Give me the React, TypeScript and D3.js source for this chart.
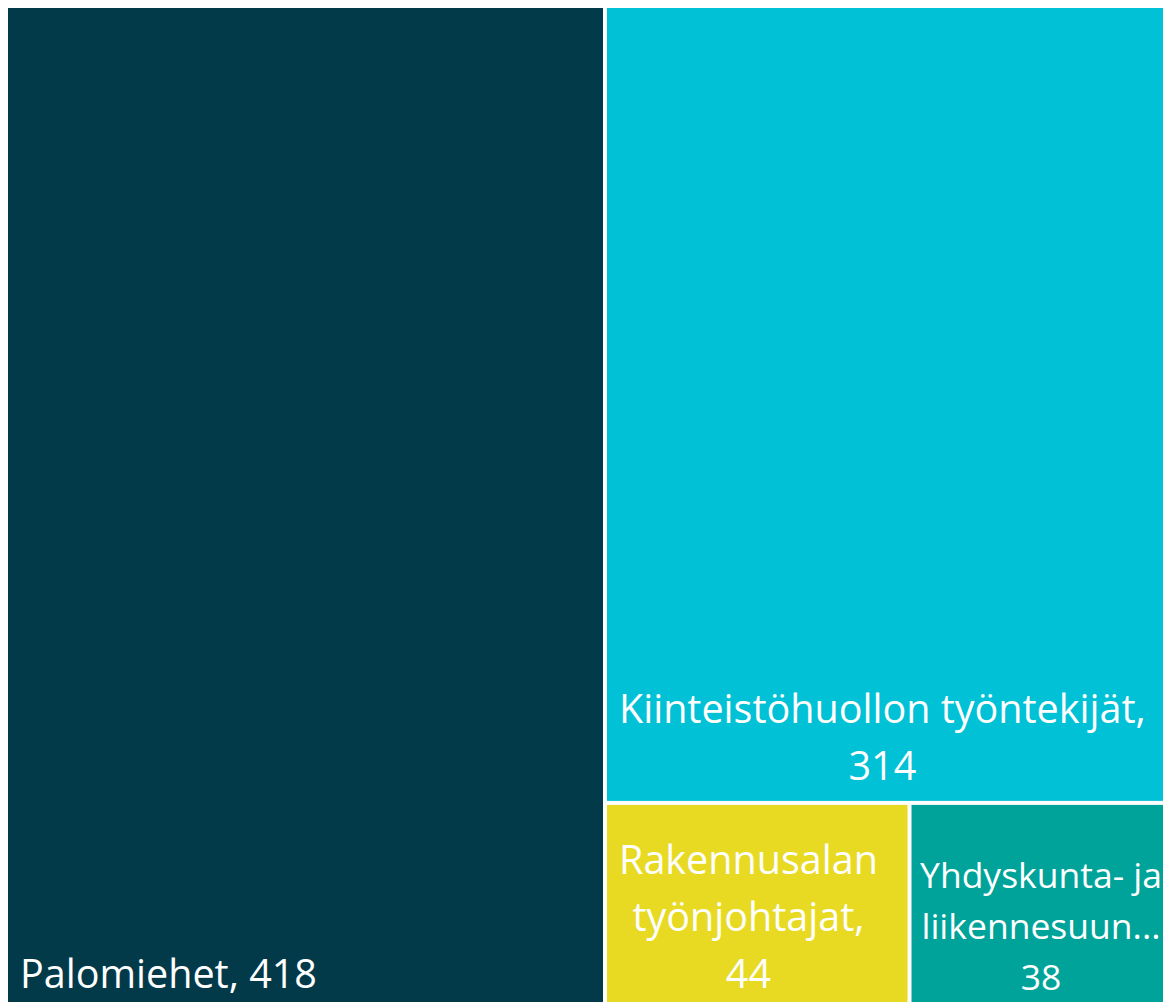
import React, { useEffect, useRef } from "react";
import * as d3 from "d3";

const categories = [
  "Palomiehet",
  "Kiinteistöhuollon työntekijät",
  "Rakennusalan työnjohtajat",
  "Yhdyskunta- ja liikennesuunnittelijat",
];
const values = [418, 314, 44, 38];
// label lines as displayed (name part, wrapped / truncated)
const labelLines = [
  ["Palomiehet, 418"],
  ["Kiinteistöhuollon työntekijät,", "314"],
  ["Rakennusalan", "työnjohtajat,", "44"],
  ["Yhdyskunta- ja", "liikennesuun...", "38"],
];
const colors = ["#023A4A", "#00C1D6", "#E8DA22", "#00A39A"];

const W = 1162.5;
const H = 1001;
const FONT = "'Open Sans', 'Segoe UI', sans-serif";
const labelFont = [39.5, 39.5, 39.5, 35.5];
const labelLineH = [57, 57, 57, 51];
const labelBottom = [21, 21, 21, 19];
const labelAlignStart = [true, false, false, false];

export default function App() {
  const ref = useRef<SVGSVGElement | null>(null);

  useEffect(() => {
    const svg = d3.select(ref.current);
    svg.selectAll("*").remove();
    const data = categories.map((name, i) => ({ name, value: values[i], i }));
    const root = d3
      .hierarchy<any>({ children: data })
      .sum((d: any) => d.value || 0)
      .sort((a, b) => (b.value || 0) - (a.value || 0));
    d3
      .treemap<any>()
      .size([W, H])
      .paddingInner(4)
      .round(false)
      .tile(d3.treemapSquarify.ratio(1))(root);

    const g = svg.append("g").attr("transform", "translate(8,8)");
    const leaves = root.leaves() as any[];
    const cell = g
      .selectAll("g.cell")
      .data(leaves)
      .join("g")
      .attr("class", "cell");

    cell
      .append("rect")
      .attr("x", (d) => d.x0)
      .attr("y", (d) => d.y0)
      .attr("width", (d) => d.x1 - d.x0)
      .attr("height", (d) => d.y1 - d.y0)
      .attr("fill", (d) => colors[d.data.i]);

    cell.each(function (d: any) {
      const i = d.data.i;
      const lines = labelLines[i];
      const fs = labelFont[i];
      const lh = labelLineH[i];
      const lastBase = d.y1 - labelBottom[i];
      const t = d3
        .select(this)
        .append("text")
        .attr("fill", "#ffffff")
        .style("font-family", FONT)
        .style("font-size", fs + "px");
      const spans = lines.map((ln, k) =>
        t
          .append("tspan")
          .attr("y", lastBase - (lines.length - 1 - k) * lh)
          .text(ln)
      );
      const left = d.x0 + 12;
      if (labelAlignStart[i]) {
        spans.forEach((s) => s.attr("x", left).attr("text-anchor", "start"));
      } else {
        const widths = spans.map((s) => (s.node() as SVGTSpanElement).getComputedTextLength());
        const maxW = Math.max(...widths);
        const avail = d.x1 - d.x0 - 24;
        const cx = maxW > avail ? (d.x0 + d.x1) / 2 : left + maxW / 2;
        spans.forEach((s) => s.attr("x", cx).attr("text-anchor", "middle"));
      }
    });
  }, []);

  return (
    <div
      style={{
        position: "fixed",
        left: 0,
        top: 0,
        width: 1163,
        height: 1002,
        overflow: "hidden",
        background: "#ffffff",
      }}
    >
      <svg ref={ref} width={1163} height={1002} style={{ display: "block" }} />
    </div>
  );
}
